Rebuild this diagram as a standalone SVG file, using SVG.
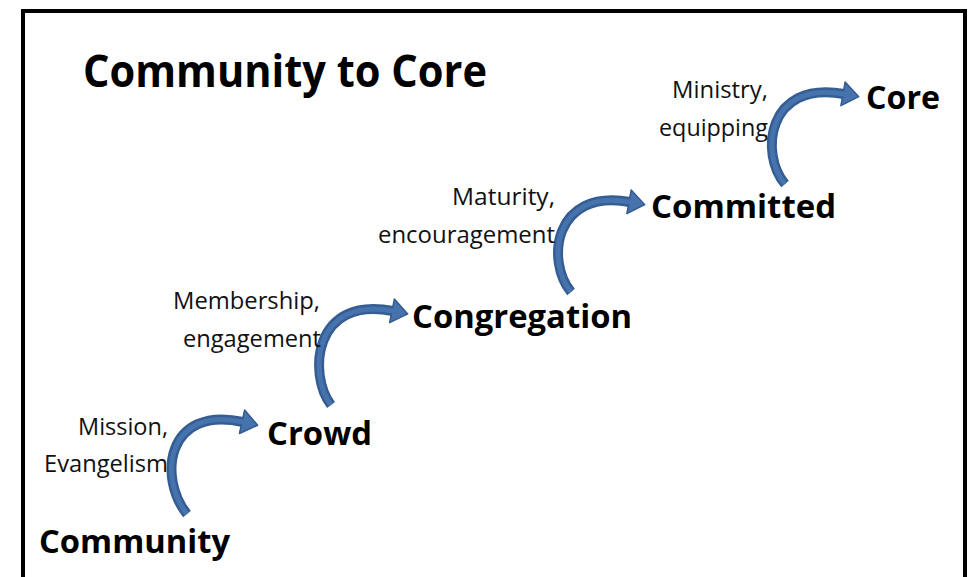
<svg xmlns="http://www.w3.org/2000/svg" width="972" height="577" viewBox="0 0 972 577">
<style>
.title{font-family:"Open Sans","Liberation Sans",sans-serif;font-weight:700;font-size:45px;fill:#000}
.node{font-family:"Open Sans","Liberation Sans",sans-serif;font-weight:700;font-size:32px;fill:#000}
.lbl{font-family:"Open Sans","Liberation Sans",sans-serif;font-weight:400;font-size:23px;fill:#111;text-anchor:end}
.shaft{fill:none;stroke:#355d92;stroke-width:10}
.shine{fill:none;stroke:#4673ad;stroke-width:5}
</style>
<defs>
<marker id="head" viewBox="0 0 18 26" refX="2" refY="13" markerWidth="18" markerHeight="26" markerUnits="userSpaceOnUse" orient="auto">
<path d="M1,1 L17,13 L1,25 Z" fill="#4673ad" stroke="#345b8f" stroke-width="1.5" stroke-linejoin="round"/>
</marker>
</defs>
<rect width="972" height="577" fill="#fff"/>
<path d="M23,577 L23,11 L965,11 L965,577" fill="none" stroke="#000" stroke-width="4"/>
<text class="title" x="83" y="87" textLength="404" lengthAdjust="spacingAndGlyphs">Community to Core</text>
<g id="connectors">
<path class="shaft" d="M187,514 C158,478 166,405 243,422" marker-end="url(#head)"/>
<path class="shine" d="M187,514 C158,478 166,405 243,422"/>
<path class="shaft" d="M331,405 C308,375 313,295 393,311" marker-end="url(#head)"/>
<path class="shine" d="M331,405 C308,375 313,295 393,311"/>
<path class="shaft" d="M571,292 C546,262 553,188 630,202" marker-end="url(#head)"/>
<path class="shine" d="M571,292 C546,262 553,188 630,202"/>
<path class="shaft" d="M785,184 C760,155 766,80 844,94" marker-end="url(#head)"/>
<path class="shine" d="M785,184 C760,155 766,80 844,94"/>
</g>
<g id="community"><text class="node" x="39" y="553" textLength="191" lengthAdjust="spacingAndGlyphs">Community</text></g>
<g id="crowd"><text class="node" x="267" y="445" textLength="105" lengthAdjust="spacingAndGlyphs">Crowd</text></g>
<g id="congregation"><text class="node" x="412" y="328" textLength="220" lengthAdjust="spacingAndGlyphs">Congregation</text></g>
<g id="committed"><text class="node" x="651" y="218" textLength="185" lengthAdjust="spacingAndGlyphs">Committed</text></g>
<g id="core"><text class="node" x="866" y="109" textLength="74" lengthAdjust="spacingAndGlyphs">Core</text></g>
<g id="label-mission">
<text class="lbl" x="168" y="435" textLength="90" lengthAdjust="spacingAndGlyphs">Mission,</text>
<text class="lbl" x="168" y="472" textLength="124" lengthAdjust="spacingAndGlyphs">Evangelism</text>
</g>
<g id="label-membership">
<text class="lbl" x="320" y="309" textLength="147" lengthAdjust="spacingAndGlyphs">Membership,</text>
<text class="lbl" x="321" y="347" textLength="138" lengthAdjust="spacingAndGlyphs">engagement</text>
</g>
<g id="label-maturity">
<text class="lbl" x="555" y="205" textLength="103" lengthAdjust="spacingAndGlyphs">Maturity,</text>
<text class="lbl" x="555" y="243" textLength="177" lengthAdjust="spacingAndGlyphs">encouragement</text>
</g>
<g id="label-ministry">
<text class="lbl" x="768" y="98" textLength="96" lengthAdjust="spacingAndGlyphs">Ministry,</text>
<text class="lbl" x="768" y="136" textLength="109" lengthAdjust="spacingAndGlyphs">equipping</text>
</g>
</svg>
